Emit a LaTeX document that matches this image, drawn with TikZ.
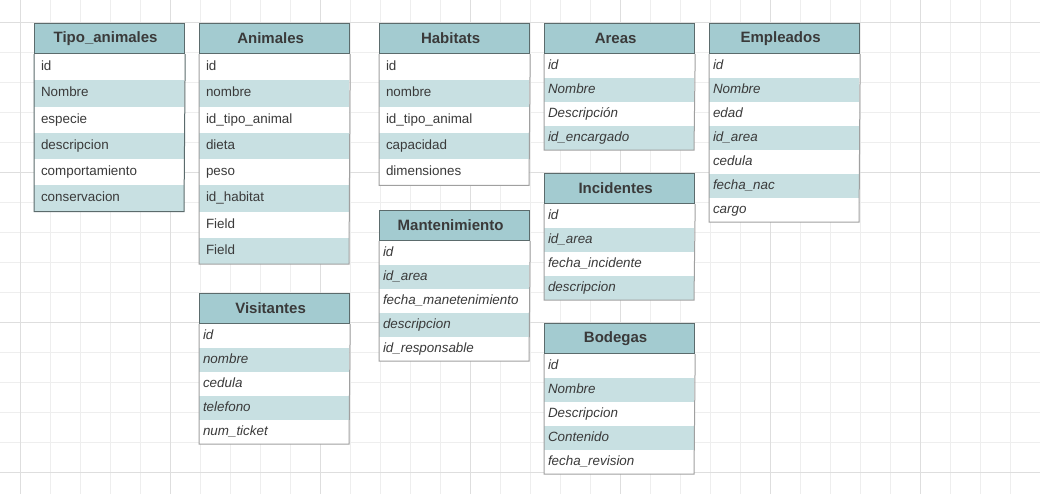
\documentclass[tikz,border=0pt]{standalone}
\usepackage{fontspec}
\setmainfont{Liberation Sans}

\definecolor{headfill}{HTML}{A3CBD0}
\definecolor{rowfill}{HTML}{C8E0E2}
\definecolor{headline}{HTML}{5B6B6C}
\definecolor{bodyline}{HTML}{A0A0A0}
\definecolor{inktext}{HTML}{3A3A3A}
\definecolor{gridminor}{HTML}{EEEEEE}
\definecolor{gridmajor}{HTML}{DEDEDE}

\tikzset{
    tablehead/.style={draw=headline, fill=headfill, line width=1.2pt, anchor=north west,
        minimum width=150pt, minimum height=30pt, inner sep=0pt, text width=150pt,
        align=center, text=inktext, font=\fontsize{15}{18}\selectfont\bfseries},
    fieldrow/.style={anchor=north west, inner ysep=0pt, outer sep=0pt, text=inktext,
        align=left, text height=10pt, text depth=3.4pt},
    plainfield/.style={fieldrow, minimum height=26.25pt, inner xsep=7pt, text width=136pt,
        font=\fontsize{13.4}{16}\selectfont},
    slantfield/.style={fieldrow, minimum height=24pt, inner xsep=4pt, text width=142pt,
        font=\fontsize{13.4}{16}\selectfont\itshape},
    tablebox/.style={draw=bodyline, line width=1pt},
}

% #1 outline style, #2 name, #3 title, #4 corner, #5 field style, #6 fields
\newcommand{\dbtable}[6][]{%
    \node[tablehead, alias=#2-0] (#2) at (#4) {#3\hspace*{8pt}};
    \foreach \f [count=\i, remember=\i as \j (initially 0)] in {#6} {
        \ifodd\i \def\rowcol{white}\else \def\rowcol{rowfill}\fi
        \node[#5, fill=\rowcol] (#2-\i) at (#2-\j.south west) {\f};
        \xdef\lastrow{\i}
    }
    \draw[tablebox, #1] (#2.south west) |- (#2-\lastrow.south east) -- (#2.south east);
}

\begin{document}
\begin{tikzpicture}[x=1pt, y=-1pt]
    \useasboundingbox (0,0) rectangle (1040,494);

    % grid
    \foreach \gx in {20,50,...,1040}
        \draw[gridminor, line width=1pt] (\gx,0) -- (\gx,494);
    \foreach \gy in {22.5,52.5,...,472.5}
        \draw[gridminor, line width=1pt] (0,\gy) -- (1040,\gy);
    \foreach \gx in {20,170,...,920}
        \draw[gridmajor, line width=1pt] (\gx,0) -- (\gx,494);
    \foreach \gy in {22.5,172.5,322.5,472.5}
        \draw[gridmajor, line width=1pt] (0,\gy) -- (1040,\gy);

    \dbtable[draw=headline]{tipo}{Tipo\_animales}{34,23}{plainfield}
        {id, Nombre, especie, descripcion, comportamiento, conservacion}
    \dbtable{animales}{Animales}{199,23}{plainfield}
        {id, nombre, id\_tipo\_animal, dieta, peso, id\_habitat, Field, Field}
    \dbtable{habitats}{Habitats}{379,23}{plainfield}
        {id, nombre, id\_tipo\_animal, capacidad, dimensiones}
    \dbtable{mantenimiento}{Mantenimiento}{379,210}{slantfield}
        {id, id\_area, fecha\_manetenimiento, descripcion, id\_responsable}
    \dbtable{areas}{Areas}{544,23}{slantfield}
        {id, Nombre, Descripción, id\_encargado}
    \dbtable{incidentes}{Incidentes}{544,173}{slantfield}
        {id, id\_area, fecha\_incidente, descripcion}
    \dbtable{bodegas}{Bodegas}{544,323}{slantfield}
        {id, Nombre, Descripcion, Contenido, fecha\_revision}
    \dbtable{empleados}{Empleados}{709,23}{slantfield}
        {id, Nombre, edad, id\_area, cedula, fecha\_nac, cargo}
    \dbtable{visitantes}{Visitantes}{199,293}{slantfield}
        {id, nombre, cedula, telefono, num\_ticket}

\end{tikzpicture}
\end{document}
